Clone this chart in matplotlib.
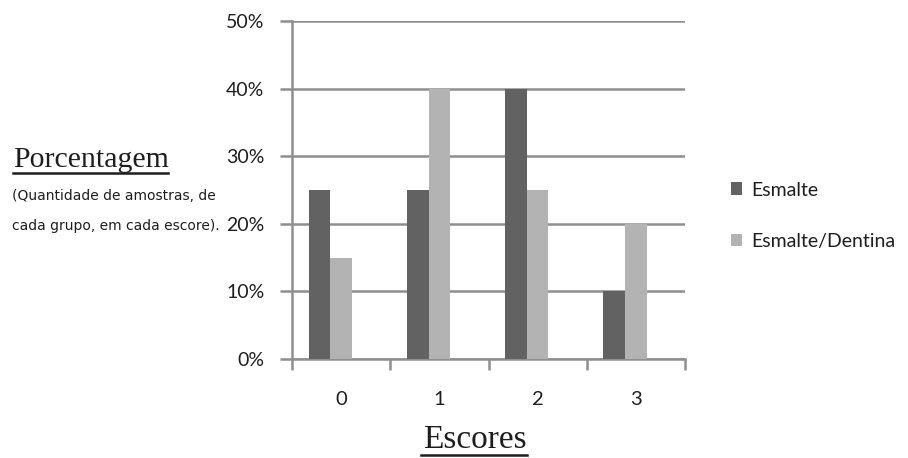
import numpy as np
import matplotlib.pyplot as plt

escores = ["0", "1", "2", "3"]
esmalte = [25, 25, 40, 10]
esmalte_dentina = [15, 40, 25, 20]
y_ticks = [0, 10, 20, 30, 40, 50]

dark = "#626262"
light = "#b3b3b3"
grid_gray = "#8f8f8f"
label_color = "#1e1e1e"

fig = plt.figure(figsize=(9.08, 4.58), dpi=100)
ax = fig.add_axes([292 / 908, 1 - 359 / 458, (685 - 292) / 908, (359 - 21) / 458])

x = np.arange(len(escores))
w = 0.22
shift = -0.11
ax.bar(x + shift - w / 2, esmalte, width=w, color=dark, zorder=3, label="Esmalte")
ax.bar(x + shift + w / 2, esmalte_dentina, width=w, color=light, zorder=3, label="Esmalte/Dentina")

ax.set_xlim(-0.5, 3.5)
ax.set_ylim(0, 50)
ax.set_yticks(y_ticks)
ax.set_yticklabels([f"{v}%" for v in y_ticks], fontsize=14, family="Lato", color=label_color)
ax.yaxis.grid(True, color=grid_gray, linewidth=1.8, zorder=0)
ax.tick_params(axis="y", length=9, width=1.8, color=grid_gray, pad=11)

ax.set_xticks(x)
ax.set_xticklabels(escores, fontsize=14.5, family="Lato", color=label_color)
ax.set_xticks(np.arange(-0.5, 4.0, 1.0), minor=True)
ax.tick_params(axis="x", which="major", length=0, pad=23)
ax.tick_params(axis="x", which="minor", length=8, width=1.8, color=grid_gray)

for side in ["top", "right"]:
    ax.spines[side].set_visible(False)
for side in ["left", "bottom"]:
    ax.spines[side].set_color(grid_gray)
    ax.spines[side].set_linewidth(1.8)

# axis titles, underlined by hand
fig.text(13 / 908, 1 - 167 / 458, "Porcentagem", family="Liberation Serif", fontsize=21.5,
         ha="left", va="baseline", color=label_color)
fig.add_artist(plt.Line2D([13 / 908, 168 / 908], [1 - 173 / 458] * 2, color=label_color, linewidth=1.8))
fig.text(12 / 908, 1 - 200 / 458, "(Quantidade de amostras, de", family="DejaVu Sans",
         fontsize=10.0, ha="left", va="baseline", color=label_color)
fig.text(12 / 908, 1 - 230 / 458, "cada grupo, em cada escore).", family="DejaVu Sans",
         fontsize=10.0, ha="left", va="baseline", color=label_color)

fig.text(475 / 908, 1 - 448 / 458, "Escores", family="Liberation Serif", fontsize=24,
         ha="center", va="baseline", color=label_color)
fig.add_artist(plt.Line2D([421 / 908, 527 / 908], [1 - 455 / 458] * 2, color=label_color, linewidth=1.8))

fig.legend(loc="upper left", bbox_to_anchor=(713 / 908, 1 - 164 / 458), frameon=False,
           prop={"family": "Lato", "size": 14}, handlelength=0.6, handleheight=0.6,
           labelspacing=1.75, handletextpad=0.45, labelcolor=label_color)

fig.savefig("out.png", dpi=100)
